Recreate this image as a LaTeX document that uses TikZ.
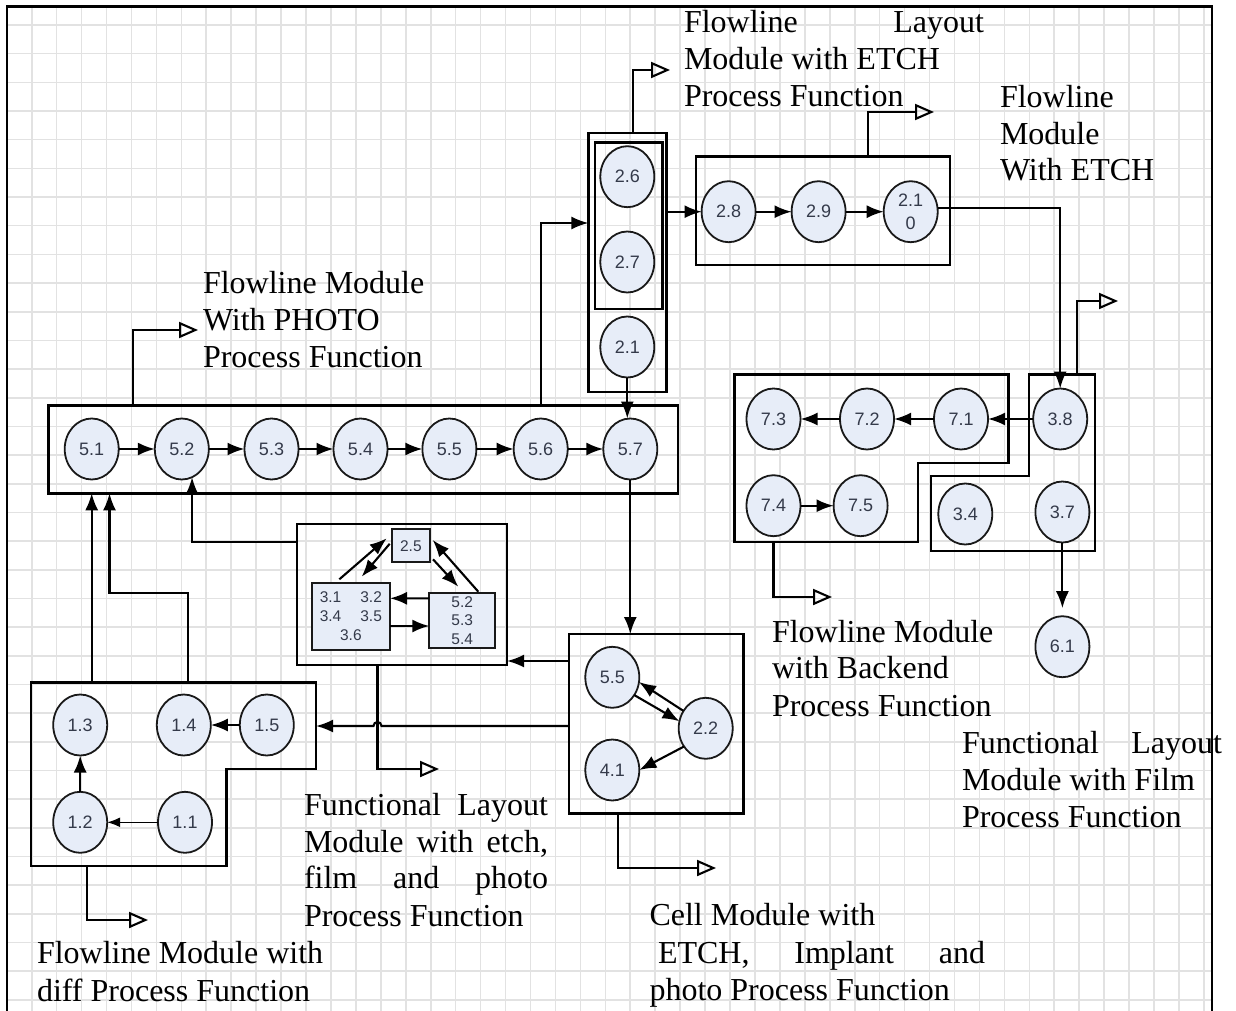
\documentclass[tikz,border=0pt]{standalone}
\usepackage{fontspec}
\setmainfont{Liberation Serif}
\newfontfamily\lblfont{Liberation Sans}
\usetikzlibrary{arrows.meta,shapes.geometric,calc}
\definecolor{efill}{RGB}{231,237,248}
\definecolor{elabel}{RGB}{52,58,74}
\definecolor{gridc}{RGB}{226,226,226}
\begin{document}
\begin{tikzpicture}[x=1pt,y=-1pt,
  proc/.style={ellipse, draw=black!90, line width=1.8pt, fill=efill, minimum width=54pt, minimum height=61pt, inner sep=0pt, outer sep=0pt, text=elabel, font=\lblfont\fontsize{18}{23}\selectfont, align=center},
  sq/.style={rectangle, draw=black!90, line width=1.7pt, fill=efill, inner sep=0pt, outer sep=0pt, text=elabel, font=\lblfont\fontsize{15.5}{19}\selectfont, align=center},
  modbox/.style={rectangle, draw=black, line width=2.4pt, inner sep=0pt, outer sep=0pt},
  modpath/.style={draw=black, line width=2.4pt, line join=miter},
  flow/.style={draw=black, line width=2.1pt, -{Latex[length=17pt,width=13pt]}},
  thinflow/.style={draw=black, line width=1.3pt, -{Latex[length=13pt,width=10pt]}},
  outarrow/.style={draw=black, line width=2.1pt, -{Triangle[open,length=19pt,width=16pt]}},
  txt/.style={anchor=base west, inner sep=0pt, outer sep=0pt, font=\fontsize{32}{37}\selectfont},
  gridline/.style={draw=gridc, line width=1.6pt}
]
\useasboundingbox (0,0) rectangle (1236,1011);
% grid
\foreach \i in {0,...,47} \draw[gridline] ({31.7+\i*24.94},6.5) -- ({31.7+\i*24.94},1011);
\foreach \j in {0,...,34} \draw[gridline] (7,{25+\j*28.67}) -- (1212,{25+\j*28.67});
% frame
\draw[line width=2.2pt] (7,1011) -- (7,6.5) -- (1212,6.5) -- (1212,1011);

% module boxes
\node[modbox, minimum width=629.1pt, minimum height=87.8pt] (b5) at (363.15,449.4) {};
\node[modbox, minimum width=78.2pt, minimum height=259pt] (b2o) at (627.5,262.5) {};
\node[modbox, minimum width=67.8pt, minimum height=166.3pt] (b2i) at (628.6,225.85) {};
\node[modbox, minimum width=254pt, minimum height=108.3pt] (b28) at (823,210.85) {};
\node[modbox, minimum width=210pt, minimum height=141pt] (bfun) at (402,594.5) {};
\node[modbox, minimum width=174.5pt, minimum height=179.3pt] (bcell) at (656.25,723.65) {};
\draw[modpath] (734.6,374.3) coordinate (b7nw) -- (1008.5,374.3) -- (1008.5,462.7) -- (917.9,462.7) -- (917.9,541.7) -- (734.6,541.7) coordinate (b7sw) -- cycle;
\draw[modpath] (1029.2,374.3) coordinate (b3nw) -- (1094.7,374.3) -- (1094.7,550.7) -- (930.8,550.7) -- (930.8,475.7) -- (1029.2,475.7) -- cycle;
\draw[modpath] (31,682.3) coordinate (b1nw) -- (316,682.3) coordinate (b1ne) -- (316,769) -- (226.5,769) -- (226.5,866) -- (31,866) coordinate (b1sw) -- cycle;

% process ellipses
\node[proc] (r51) at (91.7,449) {5.1};
\node[proc] (r52) at (181.8,449) {5.2};
\node[proc] (r53) at (271.5,449) {5.3};
\node[proc] (r54) at (360.5,449) {5.4};
\node[proc] (r55) at (449.4,449) {5.5};
\node[proc] (r56) at (540.7,449) {5.6};
\node[proc] (r57) at (630.3,449) {5.7};
\node[proc] (n26) at (627.3,176.7) {2.6};
\node[proc] (n27) at (627.3,262) {2.7};
\node[proc] (n21) at (627.3,347) {2.1};
\node[proc] (n28) at (728.6,211.7) {2.8};
\node[proc] (n29) at (818.6,211.7) {2.9};
\node[proc] (n210) at (910.7,211.7) {2.1\\0};
\node[proc] (n73) at (773.5,419) {7.3};
\node[proc] (n72) at (867,419) {7.2};
\node[proc] (n71) at (961,419) {7.1};
\node[proc] (n38) at (1060.2,419) {3.8};
\node[proc] (n74) at (773.5,505.7) {7.4};
\node[proc] (n75) at (860.6,505.7) {7.5};
\node[proc] (n34) at (965.3,514) {3.4};
\node[proc] (n37) at (1062.4,512) {3.7};
\node[proc] (n61) at (1062.4,646.7) {6.1};
\node[proc] (c55) at (612.3,677.3) {5.5};
\node[proc] (c22) at (705.7,728.3) {2.2};
\node[proc] (c41) at (612.3,770) {4.1};
\node[proc] (n13) at (80.2,725) {1.3};
\node[proc] (n14) at (183.8,725) {1.4};
\node[proc] (n15) at (266.8,725) {1.5};
\node[proc] (n12) at (80.2,822.3) {1.2};
\node[proc] (n11) at (185,822.3) {1.1};

% functional layout small boxes
\node[sq, minimum width=38.3pt, minimum height=33pt] (r25) at (410.85,545.8) {2.5};
\node[sq, minimum width=78.3pt, minimum height=66.7pt] (rl) at (350.85,616.65) {3.1\hspace{19pt}3.2\\3.4\hspace{19pt}3.5\\3.6};
\node[sq, minimum width=65.7pt, minimum height=55.6pt, font=\lblfont\fontsize{15.5}{18.7}\selectfont] (rr) at (462.15,620.5) {5.2\\5.3\\5.4};

% flows in row 5
\draw[flow] (r51.east) -- (r52.west);
\draw[flow] (r52.east) -- (r53.west);
\draw[flow] (r53.east) -- (r54.west);
\draw[flow] (r54.east) -- (r55.west);
\draw[flow] (r55.east) -- (r56.west);
\draw[flow] (r56.east) -- (r57.west);
\draw[flow] (n21.south) -- (n21.south |- r57.north);
\draw[flow] (b5.north -| r56) |- (b2o.west |- 0,223);
\draw[flow] (b2o.east |- n28) -- (n28.west);
\draw[flow] (n28.east) -- (n29.west);
\draw[flow] (n29.east) -- (n210.west);
\draw[flow] (n210.8) -| (n38.north);
\draw[flow] (n38.west) -- (n71.east);
\draw[flow] (n71.west) -- (n72.east);
\draw[flow] (n72.west) -- (n73.east);
\draw[flow] (n74.east) -- (n75.west);
\draw[flow] (n37.south) -- ([yshift=8pt]n61.north);
\draw[flow] (r57.south) -- (bcell.north -| r57);
% cell module
\draw[flow] (c55.-39) -- (c22.165);
\draw[flow] (c22.142) -- (c55.-10);
\draw[flow] (c22.220) -- (c41.0);
\draw[flow] (bcell.west |- 0,661) -- (bfun.east |- 0,661);
\draw[flow] (bcell.west |- 0,726) -- (381.5,726) arc[start angle=0, end angle=-180, radius=4] -- (b1ne |- 0,726);
% functional layout
\draw[flow] ($(rl.north)+(-11.5,-4)$) -- ($(r25.west)+(-5,-7.5)$);
\draw[flow] ($(r25.west)+(-2,-2)$) -- ($(rl.north)+(10.85,-6.6)$);
\draw[flow] ($(r25.south east)+(3,-3)$) -- ($(rr.north)+(-3.85,-6)$);
\draw[flow] ($(rr.north)+(16.15,-1)$) -- ($(r25.north east)+(2.7,10.7)$);
\draw[flow] ($(rr.west)+(0,-22.2)$) -- ($(rl.east)+(0,-18.35)$);
\draw[flow] ($(rl.east)+(0,9.35)$) -- ($(rr.west)+(0,5.5)$);
\draw[flow] (bfun.west |- 0,541.7) -| (r52.-70);
% module 1
\draw[flow] (n15.west) -- (n14.east);
\draw[thinflow] (n11.west) -- (n12.east);
\draw[flow] (n12.north) -- (n13.south);
\draw[flow] (b1nw -| r51) -- (b5.south -| r51);
\coordinate (j1) at (109.5,593.3);
\draw[flow] ($(b1nw)+(156.7,0)$) |- (j1) -- (j1 |- b5.south);

% outputs (hollow arrows)
\coordinate (o1) at (198,330);
\coordinate (o2) at (670,70);
\coordinate (o3) at (439,769);
\coordinate (o4) at (934,112);
\coordinate (o5) at (1118,301);
\coordinate (o6) at (832,597);
\coordinate (o7) at (716,868);
\coordinate (o8) at (148,920);
\draw[outarrow] (b5.north -| 133,0) |- (o1);
\draw[outarrow] (b2o.north -| 633,0) |- (o2);
\draw[outarrow] (bfun.south -| 377.5,0) |- (o3);
\draw[outarrow] (b28.north -| 867.6,0) |- (o4);
\draw[outarrow] (b3nw -| 1077,0) |- (o5);
\draw[outarrow] (b7sw -| n74) |- (o6);
\draw[outarrow] (bcell.south -| 618,0) |- (o7);
\draw[outarrow] (b1sw -| 87,0) |- (o8);

% texts
\node[txt] (t1a) at (203,293) {Flowline Module};
\node[txt] (t1b) at (203,330) {With PHOTO};
\node[txt] (t1c) at (203,367) {Process Function};
\node[txt] (t2a) at (684,33) {\makebox[300pt][s]{Flowline Layout}};
\node[txt] (t2b) at (684,70) {Module with ETCH};
\node[txt] (t2c) at (684,107) {Process Function};
\node[txt] (t3a) at (1000,108) {Flowline};
\node[txt] (t3b) at (1000,145) {Module};
\node[txt] (t3c) at (1000,181) {With ETCH};
\node[txt] (t4a) at (772,642) {Flowline Module};
\node[txt] (t4b) at (772,678) {with Backend};
\node[txt] (t4c) at (772,716) {Process Function};
\node[txt] (t5a) at (962,753) {\makebox[260pt][s]{Functional Layout}};
\node[txt] (t5b) at (962,790) {Module with Film};
\node[txt] (t5c) at (962,827) {Process Function};
\node[txt] (t6a) at (304,815) {\makebox[244pt][s]{Functional Layout}};
\node[txt] (t6b) at (304,852) {\makebox[244pt][s]{Module with etch,}};
\node[txt] (t6c) at (304,888) {\makebox[244pt][s]{film and photo}};
\node[txt] (t6d) at (304,926) {Process Function};
\node[txt] (t7a) at (37,963) {Flowline Module with};
\node[txt] (t7b) at (37,1001) {diff Process Function};
\node[txt] (t8a) at (649.5,925) {Cell Module with};
\node[txt] (t8b) at (658,963) {\makebox[327pt][s]{ETCH, Implant and}};
\node[txt] (t8c) at (649.5,1000) {photo Process Function};
\end{tikzpicture}
\end{document}
